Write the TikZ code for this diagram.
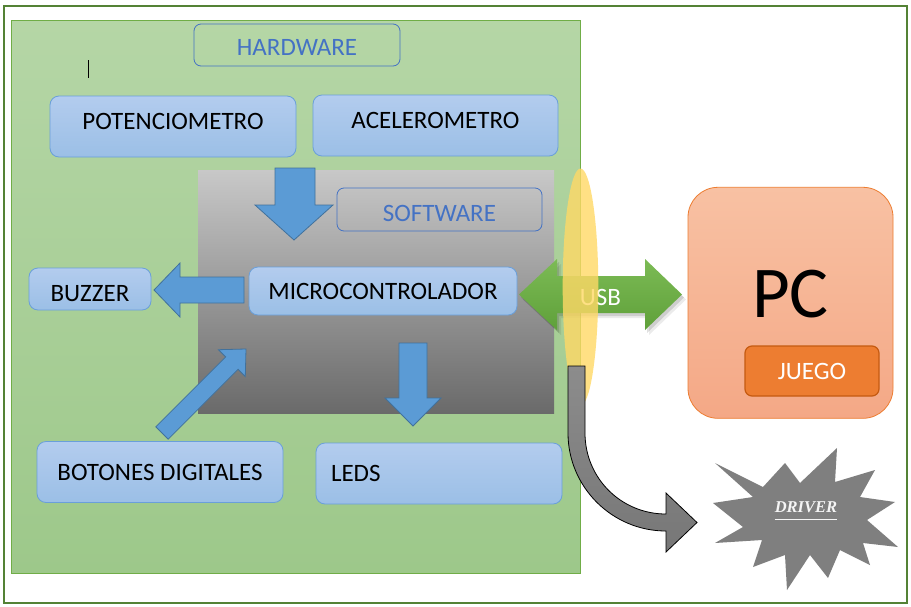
\documentclass[tikz,border=0pt]{standalone}
\usepackage{fontspec}
\setmainfont{Carlito}
\newfontfamily\drvfont{Liberation Serif}
\definecolor{frameg}{HTML}{548235}
\definecolor{pantop}{HTML}{B5D6A6}
\definecolor{panbot}{HTML}{9DC88A}
\definecolor{panline}{HTML}{70AD47}
\definecolor{graytop}{HTML}{C8C8C8}
\definecolor{graybot}{HTML}{6A6A6A}
\definecolor{bboxtop}{HTML}{B3CCEE}
\definecolor{bboxbot}{HTML}{9BBFE6}
\definecolor{bboxline}{HTML}{6A9FDA}
\definecolor{hwblue}{HTML}{4472C4}
\definecolor{arrowblue}{HTML}{5B9BD5}
\definecolor{arrowline}{HTML}{41719C}
\definecolor{usbtop}{HTML}{7CBB55}
\definecolor{usbbot}{HTML}{5FA03A}
\definecolor{ellyel}{HTML}{FFD966}
\definecolor{pctop}{HTML}{F8C1A3}
\definecolor{pcbot}{HTML}{F4A886}
\definecolor{pcline}{HTML}{ED7D31}
\definecolor{juegofill}{HTML}{ED7D31}
\definecolor{juegoline}{HTML}{C55A11}
\definecolor{stargray}{HTML}{7F7F7F}
\definecolor{curvetop}{HTML}{8C8C8C}
\definecolor{curvebot}{HTML}{777777}
\newcommand{\lblfont}{\fontsize{25}{30}\selectfont}
\begin{document}
\begin{tikzpicture}[x=1pt,y=-1pt,
  bluebox/.style={draw=bboxline, line width=0.8pt, rounded corners=9pt,
    top color=bboxtop, bottom color=bboxbot, inner sep=0pt, font=\lblfont},
  outbox/.style={draw=hwblue, line width=0.8pt, rounded corners=7pt,
    inner sep=0pt, text=hwblue, font=\lblfont},
  barrow/.style={fill=arrowblue, draw=arrowline, line width=0.8pt},
]
\useasboundingbox (0,0) rectangle (911,606);
\fill[white] (0,0) rectangle (911,606);
\draw[frameg, line width=2pt] (3.5,5.5) rectangle (906.5,603);
% hardware panel
\shadedraw[top color=pantop, bottom color=panbot, draw=panline, line width=0.8pt] (11,20) rectangle (580,573);
\node[outbox, minimum width=206pt, minimum height=42pt, text height=20pt, text depth=0pt] (hw) at (297,45) {HARDWARE};
\draw[black, line width=0.8pt] (88,60) -- (88,78);
\node[bluebox, minimum width=246pt, minimum height=61pt, text height=16pt, text depth=11pt] (pot) at (173,126.5) {POTENCIOMETRO};
\node[bluebox, minimum width=245pt, minimum height=61pt, text height=16pt, text depth=11pt] (ace) at (435.5,125.5) {ACELEROMETRO};
% software panel
\shade[top color=graytop, bottom color=graybot] (198,170) rectangle (554,413);
\draw[barrow] (275,168) -- (315,168) -- (315,205) -- (333,205) -- (294,240) -- (255,205) -- (275,205) -- cycle;
\node[outbox, minimum width=205pt, minimum height=43pt, text height=24pt, text depth=0pt] (sw) at (439.5,209.5) {SOFTWARE};
\node[bluebox, minimum width=268pt, minimum height=48pt, text height=16pt, text depth=0pt] (micro) at (383,291) {MICROCONTROLADOR};
\node[bluebox, minimum width=122pt, minimum height=42pt, text height=24pt, text depth=0pt] (buzz) at (90,289) {BUZZER};
\draw[barrow] (244,277) -- (180,277) -- (180,263) -- (154,290) -- (180,317) -- (180,303) -- (244,303) -- cycle;
\draw[barrow] (155.8,426.8) -- (225.7,356.9) -- (218.5,349.7) -- (246,349) -- (245.3,376.5) -- (238.1,369.3) -- (168.2,439.2) -- cycle;
\draw[barrow] (399,343) -- (427,343) -- (427,398) -- (441,398) -- (413,426) -- (385,398) -- (399,398) -- cycle;
\node[bluebox, minimum width=246pt, minimum height=61pt, text height=16pt, text depth=0pt] (bot) at (160,472) {BOTONES DIGITALES};
\node[bluebox, minimum width=246pt, minimum height=61pt, text height=16pt, text depth=0pt, text width=216pt, align=left] (leds) at (439,473.5) {LEDS};
% USB arrow
\foreach \s/\o in {2/0.12,4/0.08}{
  \fill[black, opacity=\o, shift={(\s,\s+1)}] (519,294.5) -- (557,259) -- (557,276) -- (645,276) -- (645,259) -- (682,294.5) -- (645,330) -- (645,313) -- (557,313) -- (557,330) -- cycle;
}
\shade[top color=usbtop, bottom color=usbbot] (519,294.5) -- (557,259) -- (557,276) -- (645,276) -- (645,259) -- (682,294.5) -- (645,330) -- (645,313) -- (557,313) -- (557,330) -- cycle;
\node[text=white, font=\lblfont, inner sep=0pt] (usb) at (600.5,297.5) {USB};
\fill[ellyel, opacity=0.8] (580.5,287) ellipse [x radius=17.8, y radius=118.5];
% curved gray arrow
\shadedraw[top color=curvetop, bottom color=curvebot, draw=black, line width=0.8pt]
  (585,366) -- (585,433) .. controls (585,478) and (621,514) .. (666,514) -- (666,493) -- (697,522.5) -- (666,552) -- (666,531) .. controls (612,531) and (568,487) .. (568,433) -- (568,366) -- cycle;
% PC
\node[draw=pcline, line width=0.8pt, rounded corners=30pt, top color=pctop, bottom color=pcbot, minimum width=205pt, minimum height=231pt, inner sep=0pt, font=\fontsize{73}{80}\selectfont, text height=47pt, text depth=17pt] (pc) at (790.5,302.8) {PC};
\node[draw=juegoline, line width=1.2pt, rounded corners=7pt, fill=juegofill, minimum width=134pt, minimum height=50pt, inner sep=0pt, text=white, font=\lblfont, text height=16pt, text depth=0pt] (juego) at (812,371) {JUEGO};
% driver star
\fill[stargray] (715,463) -- (763,487) -- (785,463) -- (800,483) -- (837,448) -- (835,482) -- (875,470) -- (860,497) -- (895,502) -- (867,520) -- (898,547) -- (863,543) -- (870,565) -- (840,550) -- (828,578) -- (810,555) -- (787,590) -- (785,555) -- (753,567) -- (762,540) -- (715,543) -- (743,527) -- (713,503) -- (753,497) -- cycle;
\node[text=white!96!black, font=\drvfont\bfseries\itshape\fontsize{16.5}{20}\selectfont, inner sep=0pt] (drv) at (806,507) {DRIVER};
\draw[white!96!black, line width=1.2pt] ([yshift=-6.5pt]drv.south west) -- ([yshift=-6.5pt]drv.south east);
\end{tikzpicture}
\end{document}
